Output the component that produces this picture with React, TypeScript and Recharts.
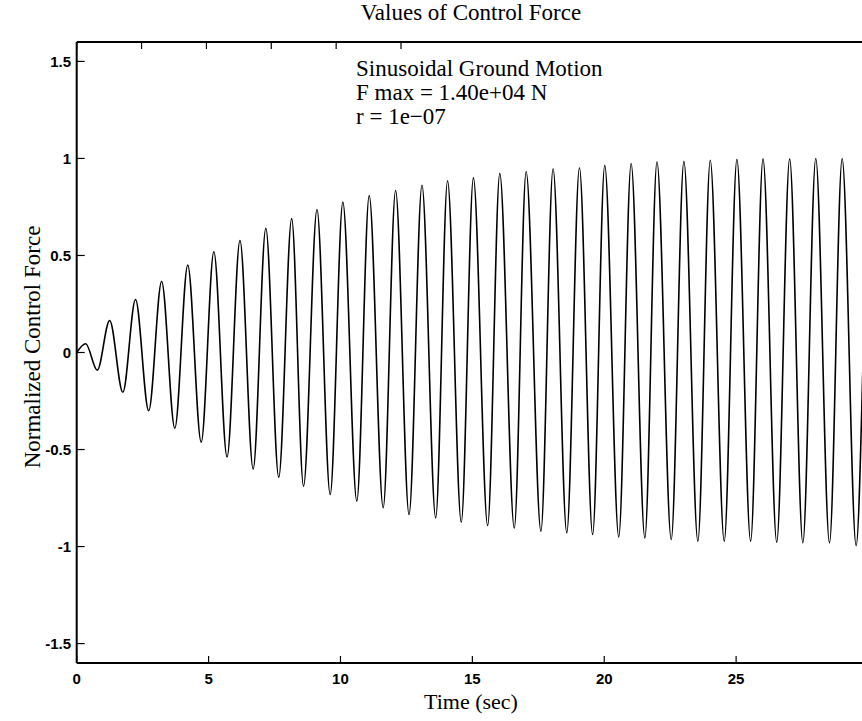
import { Line, LineChart, XAxis, YAxis } from 'recharts'

// peaks / troughs (time in s, normalized force)
const peakTimes = [
  0.34, 1.25, 2.23, 3.22, 4.21, 5.2, 6.19, 7.17, 8.15, 9.11, 10.09, 11.09, 12.09, 13.09, 14.06,
  15.04, 16.04, 17.04, 18.06, 19.06, 20.02, 21.02, 22.0, 23.02, 24.02, 25.03, 26.02, 27.03, 28.02,
  29.02,
]
const peakValues = [
  0.045, 0.165, 0.273, 0.366, 0.45, 0.519, 0.577, 0.64, 0.69, 0.737, 0.775, 0.809, 0.835, 0.862,
  0.885, 0.9, 0.923, 0.933, 0.947, 0.952, 0.964, 0.974, 0.983, 0.985, 0.991, 0.995, 0.998, 0.998,
  1.0, 1.0,
]
const troughTimes = [
  0.78, 1.75, 2.73, 3.72, 4.72, 5.7, 6.69, 7.66, 8.6, 9.61, 10.62, 11.62, 12.6, 13.61, 14.58, 15.58,
  16.59, 17.6, 18.58, 19.56, 20.55, 21.54, 22.54, 23.55, 24.55, 25.55, 26.54, 27.53, 28.54, 29.55,
]
const troughValues = [
  -0.091, -0.205, -0.3, -0.39, -0.462, -0.538, -0.6, -0.643, -0.689, -0.732, -0.766, -0.8, -0.835,
  -0.852, -0.875, -0.892, -0.904, -0.921, -0.929, -0.938, -0.95, -0.955, -0.964, -0.973, -0.973,
  -0.973, -0.978, -0.981, -0.981, -0.995,
]
const startPoint = { t: 0, f: 0 }
const endPoint = { t: 29.8, f: -0.1 }

const xTicks = [0, 5, 10, 15, 20, 25]
const yTicks = [-1.5, -1, -0.5, 0, 0.5, 1, 1.5]

const data = [
  startPoint,
  ...peakTimes.map((t, i) => ({ t, f: peakValues[i] })),
  ...troughTimes.map((t, i) => ({ t, f: troughValues[i] })),
  endPoint,
].sort((a, b) => a.t - b.t)

const W = 880
const H = 721
const PLOT_LEFT = 76.7
const PLOT_RIGHT = 868
const PLOT_TOP = 42
const PLOT_BOTTOM = 663

const SERIF = '"Liberation Serif", "DejaVu Serif", serif'
const SANS = '"Liberation Sans", Arial, sans-serif'

function BottomTick({ x, payload }: any) {
  return (
    <g>
      <line x1={x} x2={x} y1={PLOT_BOTTOM} y2={PLOT_BOTTOM - 7} stroke="#000" strokeWidth={1.2} />
      <text x={x} y={PLOT_BOTTOM + 21} textAnchor="middle" fontFamily={SANS} fontWeight={700} fontSize={15} fill="#000">
        {payload.value}
      </text>
    </g>
  )
}

function TopTick({ x }: any) {
  return <line x1={x} x2={x} y1={PLOT_TOP} y2={PLOT_TOP + 7} stroke="#000" strokeWidth={1.2} />
}

function LeftTick({ y, payload }: any) {
  return (
    <g>
      <line x1={PLOT_LEFT} x2={PLOT_LEFT + 8} y1={y} y2={y} stroke="#000" strokeWidth={1.2} />
      <text x={71} y={y + 5.5} textAnchor="end" fontFamily={SANS} fontWeight={700} fontSize={15} fill="#000">
        {String(payload.value)}
      </text>
    </g>
  )
}

function RightTick({ y }: any) {
  return <line x1={PLOT_RIGHT - 8} x2={PLOT_RIGHT} y1={y} y2={y} stroke="#000" strokeWidth={1.2} />
}

export default function App() {
  return (
    <div
      style={{
        position: 'absolute',
        left: 0,
        top: 0,
        width: 862,
        height: 721,
        overflow: 'hidden',
        background: '#fff',
      }}
    >
      <LineChart
        width={W}
        height={H}
        data={data}
        margin={{ top: PLOT_TOP - 10, bottom: H - PLOT_BOTTOM - 30, left: PLOT_LEFT - 40, right: W - PLOT_RIGHT - 8 }}
      >
        <XAxis
          dataKey="t"
          type="number"
          domain={[0, 30]}
          ticks={xTicks}
          height={30}
          axisLine={{ stroke: '#000', strokeWidth: 2 }}
          tickLine={false}
          tick={<BottomTick />}
          label={{
            content: () => (
              <text x={471} y={709} textAnchor="middle" fontFamily={SERIF} fontSize={22} fill="#000">
                Time (sec)
              </text>
            ),
          }}
        />
        <XAxis
          xAxisId="top"
          orientation="top"
          type="number"
          domain={[0, 30]}
          ticks={xTicks}
          height={10}
          axisLine={{ stroke: '#000', strokeWidth: 2 }}
          tickLine={false}
          tick={<TopTick />}
        />
        <YAxis
          type="number"
          domain={[-1.6, 1.6]}
          ticks={yTicks}
          width={40}
          axisLine={{ stroke: '#000', strokeWidth: 2 }}
          tickLine={false}
          tick={<LeftTick />}
          label={{
            content: () => (
              <text
                x={39.5}
                y={347}
                transform="rotate(-90 39.5 347)"
                textAnchor="middle"
                fontFamily={SERIF}
                fontSize={23}
                fill="#000"
              >
                Normalized Control Force
              </text>
            ),
          }}
        />
        <YAxis
          yAxisId="right"
          orientation="right"
          type="number"
          domain={[-1.6, 1.6]}
          ticks={yTicks}
          width={8}
          axisLine={{ stroke: '#000', strokeWidth: 2 }}
          tickLine={false}
          tick={<RightTick />}
        />
        <Line
          type="monotone"
          dataKey="f"
          stroke="#000"
          strokeWidth={1.6}
          dot={false}
          isAnimationActive={false}
        />
      </LineChart>
      <svg
        width={862}
        height={721}
        style={{ position: 'absolute', left: 0, top: 0, pointerEvents: 'none' }}
      >
        <text x={471} y={20} textAnchor="middle" fontFamily={SERIF} fontSize={23} fill="#000">
          Values of Control Force
        </text>
        <text fontFamily={SERIF} fontSize={23} fill="#000">
          <tspan x={356} y={76}>Sinusoidal Ground Motion</tspan>
          <tspan x={356} y={100}>F max = 1.40e+04 N</tspan>
          <tspan x={356} y={124}>r = 1e−07</tspan>
        </text>
      </svg>
    </div>
  )
}
